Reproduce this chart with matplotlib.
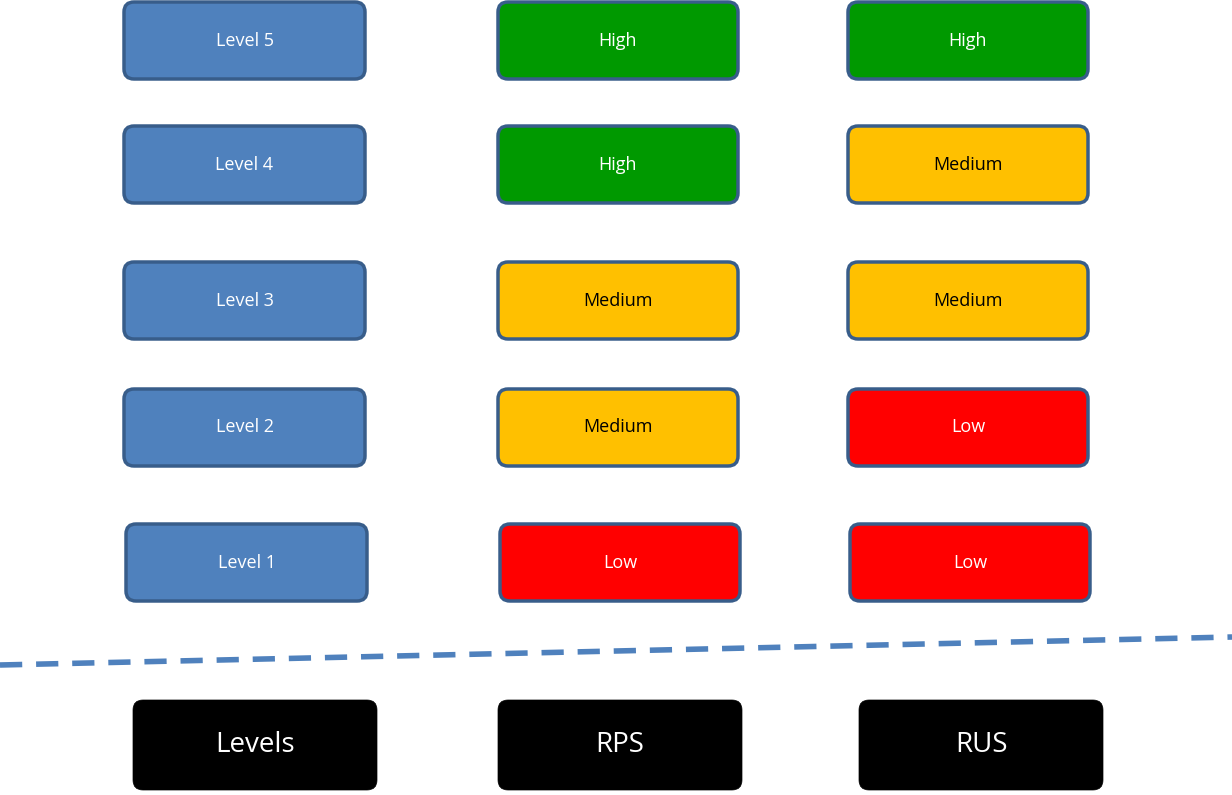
import matplotlib
matplotlib.use("Agg")
import matplotlib.pyplot as plt
from matplotlib.patches import FancyBboxPatch

plt.rcParams['font.family'] = ['Open Sans', 'DejaVu Sans']

levels = ["Level 5", "Level 4", "Level 3", "Level 2", "Level 1"]
rps = ["High", "High", "Medium", "Medium", "Low"]
rus = ["High", "Medium", "Medium", "Low", "Low"]
headers = ["Levels", "RPS", "RUS"]

row_top = [2, 126, 262, 389, 524]
col_left = [124, 498, 848]
fill = {"High": "#009900", "Medium": "#FFC000", "Low": "#FF0000"}
txt = {"High": "white", "Medium": "black", "Low": "white"}

fig = plt.figure(figsize=(12.32, 7.95), dpi=100)
ax = fig.add_axes([0, 0, 1, 1])
ax.set_xlim(0, 1232)
ax.set_ylim(795, 0)
ax.axis("off")


def box(x, y, w, h, face, label, tc, size, edge="#385D8A", lw=2.5):
    ax.add_patch(FancyBboxPatch((x, y), w, h, boxstyle="round,pad=0,rounding_size=10",
                                facecolor=face, edgecolor=edge, linewidth=lw))
    ax.text(x + w / 2, y + h / 2, label, ha="center", va="center", color=tc, fontsize=size)


for i, top in enumerate(row_top):
    shift = 2 if i == 4 else 0
    box(col_left[0] + shift, top, 241, 77, "#4F81BD", levels[i], "white", 13)
    box(col_left[1] + shift, top, 240, 77, fill[rps[i]], rps[i], txt[rps[i]], 13)
    box(col_left[2] + shift, top, 240, 77, fill[rus[i]], rus[i], txt[rus[i]], 13)

ax.plot([0, 1232], [665, 637], color="#4F81BD", linewidth=4, linestyle=(0, (4, 2.5)))

for x, h in zip([133, 498, 859], headers):
    box(x, 700, 244, 90, "black", h, "white", 20, edge="black", lw=0.5)

fig.savefig("out.png", dpi=100)
